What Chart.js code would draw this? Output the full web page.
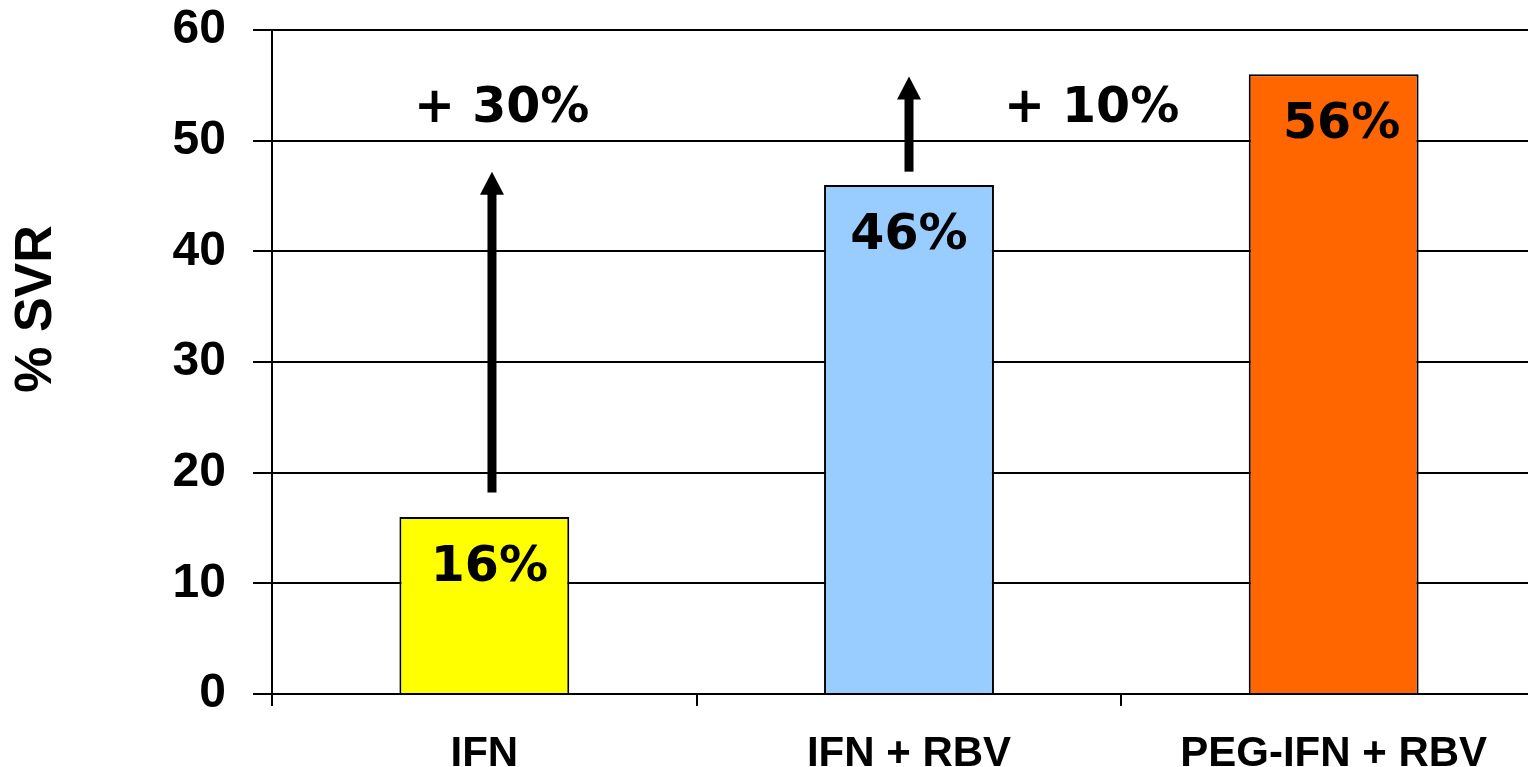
<!DOCTYPE html>
<html>
<head>
<meta charset="utf-8">
<script src="https://cdn.jsdelivr.net/npm/chart.js@4/dist/chart.umd.min.js"></script>
<style>
  html, body { margin: 0; padding: 0; overflow: hidden; background: #fff; }
  #wrap { position: absolute; left: 0; top: 0; }
</style>
</head>
<body>
<div id="wrap"><canvas id="c" width="1546" height="800"></canvas></div>
<script>
// Treatment regimens and sustained virological response rates (%)
const categories = ['IFN', 'IFN + RBV', 'PEG-IFN + RBV'];
const svr = [16, 46, 56];
const barColors = ['#FFFF00', '#99CCFF', '#FF6600'];
const yTicks = [0, 10, 20, 30, 40, 50, 60];

// Improvement arrows between successive regimens (value range each arrow spans)
const arrowFrom = [18.2, 47.2];
const arrowTo = [47.2, 55.8];
const gainLabels = svr.slice(1).map((v, i) => '+ ' + (v - svr[i]) + '%');

const VALUE_FONT = 'bold 49px "DejaVu Sans", Verdana, sans-serif';
const AXIS_FONT = '"Liberation Sans", Arial, sans-serif';

const annotations = {
  id: 'annotations',
  afterDatasetsDraw(chart) {
    const { ctx, scales: { x, y } } = chart;
    const meta = chart.getDatasetMeta(0);
    ctx.save();
    ctx.fillStyle = '#000';
    ctx.strokeStyle = '#000';

    // value labels inside the top of each bar
    ctx.font = VALUE_FONT;
    ctx.textAlign = 'center';
    ctx.textBaseline = 'alphabetic';
    const nudge = [5, 0, 8];
    meta.data.forEach((bar, i) => {
      ctx.fillText(svr[i] + '%', bar.x + nudge[i], bar.y + 64);
    });

    // arrows
    const arrowX = [0.018, 1.0];
    arrowFrom.forEach((from, i) => {
      const px = x.getPixelForValue(arrowX[i]);
      const y0 = y.getPixelForValue(from);
      const y1 = y.getPixelForValue(arrowTo[i]);
      const headH = 23, headW = 24;
      ctx.lineWidth = 9;
      ctx.beginPath();
      ctx.moveTo(px, y0);
      ctx.lineTo(px, y1 + headH - 1);
      ctx.stroke();
      ctx.beginPath();
      ctx.moveTo(px, y1);
      ctx.lineTo(px - headW / 2, y1 + headH);
      ctx.lineTo(px + headW / 2, y1 + headH);
      ctx.closePath();
      ctx.fill();
    });

    // gain labels
    const gainX = [0.041, 1.43];
    gainLabels.forEach((t, i) => {
      ctx.fillText(t, x.getPixelForValue(gainX[i]), y.getPixelForValue(51.7));
    });
    ctx.restore();
  },
  afterDraw(chart) {
    const { ctx } = chart;
    ctx.save();
    ctx.translate(37, 309);
    ctx.rotate(-Math.PI / 2);
    ctx.font = 'bold 52px ' + AXIS_FONT;
    ctx.fillStyle = '#000';
    ctx.textAlign = 'center';
    ctx.textBaseline = 'middle';
    ctx.fillText('% SVR', 0, 0);
    ctx.restore();
  }
};

new Chart(document.getElementById('c'), {
  type: 'bar',
  data: {
    labels: categories,
    datasets: [{
      data: svr,
      backgroundColor: barColors,
      borderColor: '#000',
      borderWidth: 2,
      barPercentage: 0.4,
      categoryPercentage: 1.0
    }]
  },
  options: {
    responsive: false,
    animation: false,
    events: [],
    layout: { padding: { top: 30, left: 0, right: 0, bottom: 0 } },
    plugins: { legend: { display: false }, tooltip: { enabled: false } },
    scales: {
      x: {
        afterFit(s) { s.height = 106; s.paddingLeft = 0; s.paddingRight = 0; },
        grid: {
          display: true,
          offset: true,
          drawOnChartArea: false,
          drawTicks: true,
          tickLength: 12,
          tickWidth: 2,
          tickColor: '#000',
          color: '#000',
          lineWidth: 2
        },
        border: { display: true, color: '#000', width: 2 },
        ticks: {
          color: '#000',
          padding: 23,
          maxRotation: 0,
          autoSkip: false,
          font: { family: AXIS_FONT, size: 42, weight: 'bold' }
        }
      },
      y: {
        min: yTicks[0],
        max: yTicks[yTicks.length - 1],
        afterFit(s) { s.width = 272; s.paddingTop = 0; s.paddingBottom = 0; },
        afterBuildTicks(s) { s.ticks = yTicks.map(v => ({ value: v })); },
        grid: {
          color: '#000',
          lineWidth: 2,
          drawTicks: true,
          tickLength: 19,
          tickColor: '#000',
          tickWidth: 2
        },
        border: { display: true, color: '#000', width: 2 },
        ticks: {
          color: '#000',
          padding: 27,
          font: { family: AXIS_FONT, size: 48, weight: 'bold' }
        }
      }
    }
  },
  plugins: [annotations]
});
</script>
</body>
</html>
